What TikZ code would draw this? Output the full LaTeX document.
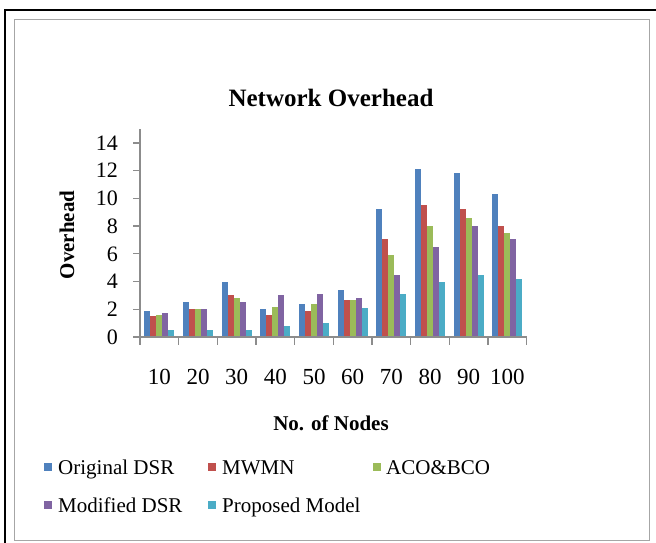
\documentclass[tikz,border=0pt]{standalone}
\usepackage{fontspec}
\setmainfont{Liberation Serif}
\usepackage{xcolor}
\usetikzlibrary{positioning}
\definecolor{origblue}{HTML}{4F81BD}
\definecolor{mwmnred}{HTML}{C0504D}
\definecolor{acogreen}{HTML}{9BBB59}
\definecolor{modpurple}{HTML}{8064A2}
\definecolor{propcyan}{HTML}{4BACC6}
\definecolor{axisgray}{HTML}{8C8C8C}
\tikzstyle{axis} = [axisgray, line width=1.3pt]
\tikzstyle{ticklab} = [font=\fontsize{22}{24}\selectfont, anchor=east, inner sep=0pt]
\tikzstyle{xlab} = [font=\fontsize{23}{25}\selectfont, inner sep=0pt]
\tikzstyle{axtitle} = [font=\bfseries\fontsize{21}{24}\selectfont, inner sep=0pt]
\tikzstyle{legkey} = [minimum size=8pt, inner sep=0pt]
\tikzstyle{legtext} = [font=\fontsize{21}{24}\selectfont, anchor=base west, inner sep=0pt]

\begin{document}
\begin{tikzpicture}[x=1pt, y=-1pt]
    \useasboundingbox (0,0) rectangle (656,543);

    % Frame
    \draw[line width=2pt] (5,543) -- (5,10) -- (656,10);
    \draw[gray!70, line width=1pt] (14,20) rectangle (649,540);

    % Title
    \node[font=\bfseries\fontsize{25}{28}\selectfont, inner sep=0pt] (title) at (331,98) {Network Overhead};

    \begin{scope}[shift={(140,337)}, x=38.67pt, y=13.86pt]
        % Bars
        \foreach \col/\k/\vals in {
            origblue/0/{1.9,2.5,4.0,2.0,2.4,3.4,9.2,12.1,11.8,10.3},
            mwmnred/1/{1.5,2.0,3.0,1.6,1.9,2.7,7.1,9.5,9.2,8.0},
            acogreen/2/{1.6,2.0,2.8,2.2,2.4,2.7,5.9,8.0,8.6,7.5},
            modpurple/3/{1.7,2.0,2.5,3.0,3.1,2.8,4.5,6.5,8.0,7.1},
            propcyan/4/{0.5,0.5,0.5,0.8,1.0,2.1,3.1,4.0,4.5,4.2}} {
            \foreach \v [count=\i from 0] in \vals
                \fill[\col] (\i+0.115+\k*0.154,0) rectangle ++(0.154,\v);
        }

        % Axis
        \draw[axis] (0,0) -- (0,15);
        \draw[axis] (0,0) -- (10,0);
        \foreach \t in {0,2,...,14} {
            \draw[axis] (0,\t) -- ++(-7pt,0);
            \node[ticklab] (ytick\t) at ([xshift=-22pt]0,\t) {\t};
        }
        \foreach \i in {0,...,10}
            \draw[axis] (\i,0) -- ++(0,-8pt);
        \foreach \n [count=\i from 0] in {10,20,...,100}
            \node[xlab] (xtick\n) at ([yshift=-40pt]\i+0.5,0) {\n};
    \end{scope}

    % Axis titles
    \node[axtitle] (xtitle) at (331,423) {No. of Nodes};
    \node[axtitle, rotate=90] (ytitle) at (67,235) {Overhead};

    % Legend
    \node[legkey, fill=origblue] (korig) at (47.5,467) {};
    \node[legtext] (torig) at (58,474) {Original DSR};
    \node[legkey, fill=mwmnred] (kmwmn) at (212,467) {};
    \node[legtext] (tmwmn) at (222,474) {MWMN};
    \node[legkey, fill=acogreen] (kaco) at (377,467) {};
    \node[legtext] (taco) at (386,474) {ACO\&BCO};
    \node[legkey, fill=modpurple] (kmod) at (47.5,505) {};
    \node[legtext] (tmod) at (58,512) {Modified DSR};
    \node[legkey, fill=propcyan] (kprop) at (212,505) {};
    \node[legtext] (tprop) at (222,512) {Proposed Model};
\end{tikzpicture}
\end{document}
